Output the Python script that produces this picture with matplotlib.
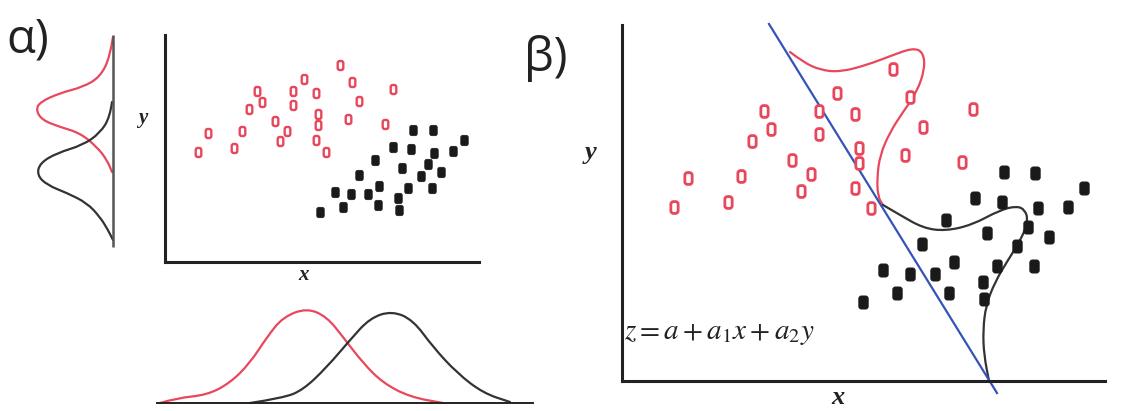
import matplotlib
matplotlib.use("Agg")
import matplotlib.pyplot as plt
from matplotlib.path import Path
from matplotlib.patches import PathPatch

W, H = 1124, 411

RED = "#e8475c"
BLACK = "#1a1a1a"
CURVE_BLACK = "#333333"
BLUE = "#3453b8"

# ---- panel a: scatter (x from y-axis, y up from x-axis) ----
a_red_x = [33, 43, 69, 77, 84, 92, 97, 110, 115, 122, 128, 128, 139, 151, 153, 153,
           151, 161, 175, 183, 187, 194, 220, 228]
a_red_y = [110, 129, 114, 131, 153, 171, 160, 141, 121, 131, 171, 157, 183, 169, 148, 137,
           122, 110, 197, 143, 180, 161, 138, 173]
a_blk_x = [248, 268, 299, 228, 246, 269, 288, 210, 237, 263, 256, 276, 194, 214, 243, 267,
           170, 186, 203, 233, 178, 213, 234, 155]
a_blk_y = [132, 132, 122, 115, 113, 109, 111, 102, 94, 98, 86, 90, 87, 76, 74, 74,
           70, 68, 68, 64, 55, 57, 52, 50]

# marginal densities of panel a
a_ymarg_red_d = [0, 3, 13, 30, 53, 73, 77, 71, 53, 33, 16, 6, 1]
a_ymarg_red_y = [225, 205, 185, 175, 169, 160, 152, 142, 135, 129, 115, 102, 90]
a_ymarg_blk_d = [1, 3, 13, 30, 56, 73, 76, 66, 46, 26, 13, 5, 0]
a_ymarg_blk_y = [160, 145, 129, 117, 109, 99, 87, 77, 69, 59, 45, 32, 22]

a_xmarg_red_x = [-5, 12, 42, 65, 85, 102, 118, 142, 162, 178, 198, 218, 245, 278]
a_xmarg_red_d = [0, 5, 8, 20, 40, 66, 86, 95, 86, 66, 40, 20, 6, 0]
a_xmarg_blk_x = [85, 118, 138, 162, 185, 205, 227, 248, 268, 292, 318, 345]
a_xmarg_blk_d = [0, 5, 13, 36, 63, 85, 92, 83, 56, 30, 10, 1]

# ---- panel b: scatter ----
b_red_x = [52, 66, 106, 119, 130, 142, 149, 170, 179, 189, 197, 197, 215, 233, 237, 237,
           233, 249, 271, 288, 301, 283, 340, 351]
b_red_y = [174, 203, 179, 205, 240, 270, 252, 221, 190, 207, 270, 247, 288, 267, 233, 218,
           193, 173, 312, 284, 254, 226, 219, 272]
b_blk_x = [382, 413, 462, 353, 380, 416, 446, 324, 406, 365, 427, 300, 395, 332, 375, 412,
           261, 288, 313, 361, 275, 327, 362, 241]
b_blk_y = [209, 208, 193, 183, 179, 173, 174, 161, 154, 148, 144, 137, 135, 119, 115, 115,
           111, 107, 107, 99, 88, 88, 82, 79]

b_line_x = [147, 375]
b_line_y = [357, -12]

b_red_curve_x = [168, 181, 198, 218, 245, 271, 291, 301, 303, 295, 281, 268, 258, 255, 256, 261]
b_red_curve_y = [329, 319, 311, 309, 316, 326, 333, 329, 313, 289, 269, 249, 226, 203, 184, 176]
b_blk_curve_x = [261, 278, 301, 323, 350, 378, 395, 403, 406, 400, 386, 373, 364, 361, 362, 367]
b_blk_curve_y = [176, 166, 153, 150, 156, 171, 175, 171, 161, 143, 121, 99, 76, 51, 26, 0]


def rounded_box(w, h, r):
    # rounded rectangle marker, centred at 0
    x0, x1, y0, y1 = -w / 2, w / 2, -h / 2, h / 2
    verts = [(x0 + r, y0), (x1 - r, y0), (x1, y0), (x1, y0 + r), (x1, y1 - r), (x1, y1),
             (x1 - r, y1), (x0 + r, y1), (x0, y1), (x0, y1 - r), (x0, y0 + r), (x0, y0),
             (x0 + r, y0), (x0 + r, y0)]
    codes = [Path.MOVETO, Path.LINETO, Path.CURVE3, Path.CURVE3, Path.LINETO, Path.CURVE3,
             Path.CURVE3, Path.LINETO, Path.CURVE3, Path.CURVE3, Path.LINETO, Path.CURVE3,
             Path.CURVE3, Path.CLOSEPOLY]
    return Path(verts, codes)


RED_MK = rounded_box(0.62, 1.0, 0.22)
BLK_MK = rounded_box(0.72, 1.0, 0.2)


def smooth_curve(ax, xs, ys, color, lw=1.6):
    # quadratic bezier through the read points (points act as control points)
    pts = list(zip(xs, ys))
    verts = [pts[0]]
    codes = [Path.MOVETO]
    for i in range(1, len(pts) - 1):
        mid = ((pts[i][0] + pts[i + 1][0]) / 2, (pts[i][1] + pts[i + 1][1]) / 2)
        verts += [pts[i], mid]
        codes += [Path.CURVE3, Path.CURVE3]
    verts.append(pts[-1])
    codes.append(Path.LINETO)
    ax.add_patch(PathPatch(Path(verts, codes), fill=False, edgecolor=color, lw=lw,
                           capstyle="round", joinstyle="round"))


def box_axes(fig, x0, y0, x1, y1):
    # axes placed by pixel box (top-left origin)
    return fig.add_axes([x0 / W, 1 - y1 / H, (x1 - x0) / W, (y1 - y0) / H])


def bare(ax):
    for s in ax.spines.values():
        s.set_visible(False)
    ax.set_xticks([])
    ax.set_yticks([])
    ax.patch.set_alpha(0)


fig = plt.figure(figsize=(W / 100, H / 100), dpi=100)
fig.patch.set_facecolor("white")

# ---- panel a main ----
ax = box_axes(fig, 165, 35, 479, 262)
bare(ax)
ax.set_xlim(0, 314)
ax.set_ylim(0, 227)
for s in ("left", "bottom"):
    ax.spines[s].set_visible(True)
    ax.spines[s].set_linewidth(2.2)
    ax.spines[s].set_color("#222222")
ax.plot(a_red_x, a_red_y, ls="none", marker=RED_MK, ms=6.5, mfc="white", mec=RED, mew=1.7)
ax.plot(a_blk_x, a_blk_y, ls="none", marker=BLK_MK, ms=7.5, mfc=BLACK, mec=BLACK, mew=0.5)

# left marginal
axl = box_axes(fig, 23, 35, 113, 262)
bare(axl)
axl.set_xlim(90, 0)
axl.set_ylim(0, 227)
axl.plot([0, 0], [15, 227], color="#555555", lw=1.8, solid_capstyle="butt", clip_on=False)
smooth_curve(axl, a_ymarg_red_d, a_ymarg_red_y, RED)
smooth_curve(axl, a_ymarg_blk_d, a_ymarg_blk_y, CURVE_BLACK)

# bottom marginal
axb = box_axes(fig, 150, 300, 540, 406)
bare(axb)
axb.set_xlim(-15, 375)
axb.set_ylim(-3, 103)
axb.plot([-8, 368], [0, 0], color="#222222", lw=1.4)
smooth_curve(axb, a_xmarg_red_x, a_xmarg_red_d, RED)
smooth_curve(axb, a_xmarg_blk_x, a_xmarg_blk_d, CURVE_BLACK)

# ---- panel b ----
bx = box_axes(fig, 622, 25, 1105, 381)
bare(bx)
bx.set_xlim(0, 483)
bx.set_ylim(0, 356)
for s in ("left", "bottom"):
    bx.spines[s].set_visible(True)
    bx.spines[s].set_linewidth(2.2)
    bx.spines[s].set_color("#222222")
bx.plot(b_line_x, b_line_y, color=BLUE, lw=1.6, clip_on=False)
smooth_curve(bx, b_red_curve_x, b_red_curve_y, RED)
smooth_curve(bx, b_blk_curve_x, b_blk_curve_y, CURVE_BLACK)
bx.plot(b_red_x, b_red_y, ls="none", marker=RED_MK, ms=8.5, mfc="white", mec=RED, mew=2.0)
bx.plot(b_blk_x, b_blk_y, ls="none", marker=BLK_MK, ms=9.5, mfc=BLACK, mec=BLACK, mew=0.5)

# ---- text ----
plt.rcParams["mathtext.fontset"] = "stix"
lab_kw = dict(family="Open Sans", fontsize=34, color="#222222", va="center", ha="left")
fig.text(6 / W, 1 - 40 / H, "α)", **lab_kw)
fig.text(524 / W, 1 - 58 / H, "β)", **lab_kw)

ser = dict(family="Liberation Serif", style="italic", weight="bold", color="#222222",
           ha="center", va="center")
fig.text(143 / W, 1 - 118 / H, "y", fontsize=15, **ser)
fig.text(303 / W, 1 - 275 / H, "x", fontsize=15, **ser)
fig.text(591 / W, 1 - 153 / H, "y", fontsize=19, **ser)
fig.text(838 / W, 1 - 397 / H, "x", fontsize=19, **ser)

fig.text(624 / W, 1 - 333 / H, r"$z=a+a_1x+a_2y$", fontsize=21,
         color="#222222", ha="left", va="center")

fig.savefig("out.png", dpi=100)
